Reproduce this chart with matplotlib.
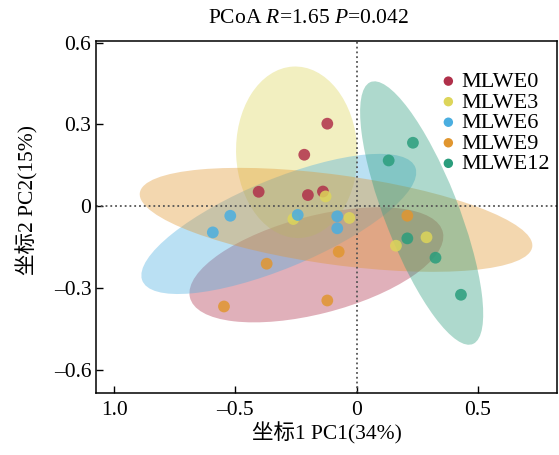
import numpy as np
import matplotlib
matplotlib.use("Agg")
import matplotlib.pyplot as plt
from matplotlib.patches import Ellipse

plt.rcParams['font.family'] = ['Liberation Serif', 'Noto Sans CJK SC']
plt.rcParams['mathtext.fontset'] = 'custom'
plt.rcParams['mathtext.rm'] = 'Liberation Serif'
plt.rcParams['mathtext.it'] = 'Liberation Serif:italic'

groups = ['MLWE0', 'MLWE3', 'MLWE6', 'MLWE9', 'MLWE12']
colors = ['#b0304a', '#ddd55a', '#4aaee0', '#e1962f', '#2a9d7c']

# PCoA scores
pc1 = {
    'MLWE0': [-0.121, -0.216, -0.404, -0.201, -0.139],
    'MLWE3': [-0.128, -0.261, -0.030, 0.162, 0.288],
    'MLWE6': [-0.521, -0.593, -0.243, -0.080, -0.080],
    'MLWE9': [-0.371, -0.074, -0.547, -0.121, 0.209],
    'MLWE12': [0.132, 0.232, 0.209, 0.325, 0.430],
}
pc2 = {
    'MLWE0': [0.303, 0.189, 0.053, 0.041, 0.054],
    'MLWE3': [0.036, -0.047, -0.043, -0.145, -0.114],
    'MLWE6': [-0.035, -0.096, -0.032, -0.037, -0.081],
    'MLWE9': [-0.211, -0.167, -0.368, -0.346, -0.035],
    'MLWE12': [0.168, 0.233, -0.118, -0.189, -0.325],
}

# group ellipses: centre, width, height, angle (data units)
ell_cx = [-0.166, -0.247, -0.321, -0.085, 0.268]
ell_cy = [-0.215, 0.198, -0.065, -0.050, -0.025]
ell_w = [1.07, 0.50, 1.20, 1.63, 1.05]
ell_h = [0.36, 0.63, 0.33, 0.33, 0.30]
ell_ang = [12.7, 3, 20, -6.9, -66]

xticks = [-1.0, -0.5, 0, 0.5]
xticklabels = ['1.0', '\u20130.5', '0', '0.5']
yticks = [0.6, 0.3, 0, -0.3, -0.6]
yticklabels = ['0.6', '0.3', '0', '\u20130.3', '\u20130.6']

fig = plt.figure(figsize=(5.59, 4.55), dpi=100)
ax = fig.add_axes([0.172, 0.136, 0.824, 0.773])

for i, g in enumerate(groups):
    ax.add_patch(Ellipse((ell_cx[i], ell_cy[i]), ell_w[i], ell_h[i], angle=ell_ang[i],
                         facecolor=colors[i], edgecolor='none', alpha=0.38, zorder=1))

ax.axhline(0, color='#555555', linestyle=':', linewidth=1.3, zorder=2)
ax.axvline(0, color='#555555', linestyle=':', linewidth=1.3, zorder=2)

for i, g in enumerate(groups):
    ax.scatter(pc1[g], pc2[g], s=72, color=colors[i], alpha=0.85,
               edgecolors='none', zorder=3, label=g)

ax.set_xlim(-1.074, 0.825)
ax.set_ylim(-0.686, 0.605)
ax.set_xticks(xticks)
ax.set_xticklabels(xticklabels)
ax.set_yticks(yticks)
ax.set_yticklabels(yticklabels)
ax.tick_params(direction='in', labelsize=15.5, length=5, width=1)
ax.tick_params(axis='x', pad=6)
for s in ax.spines.values():
    s.set_linewidth(1.1)

ax.set_xlabel('坐标1 PC1(34%)', fontsize=15.5, labelpad=1)
ax.set_ylabel('坐标2 PC2(15%)', fontsize=15.5)
ax.yaxis.set_label_coords(-0.125, 0.55)
ax.set_title(r'PCoA $R$=1.65 $P$=0.042', fontsize=15.5, x=0.46, pad=13)

leg = ax.legend(loc='upper right', bbox_to_anchor=(1.005, 0.94), frameon=False,
                fontsize=16, handletextpad=0.1, labelspacing=0.0,
                borderaxespad=0, handlelength=1.0, markerscale=0.8)
for h in leg.legend_handles:
    h.set_alpha(1)

fig.savefig('out.png', dpi=100)
